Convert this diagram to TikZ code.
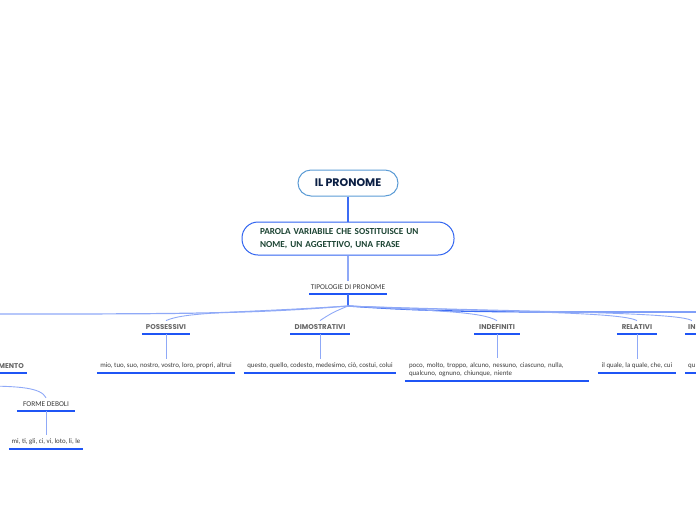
\documentclass[tikz,border=0pt]{standalone}
\usepackage{fontspec}
\setmainfont{Carlito}
\newfontfamily\popp{Poppins}
\definecolor{rootline}{HTML}{5B9BD5}
\definecolor{navy}{HTML}{0B1F44}
\definecolor{boxline}{HTML}{2F63F0}
\definecolor{dgreen}{HTML}{1B4332}
\definecolor{uline}{HTML}{1F55F5}
\definecolor{trunk}{HTML}{3C6CF4}
\definecolor{lline}{HTML}{8FA9F7}
\definecolor{catgray}{HTML}{666666}
\definecolor{txtgray}{HTML}{3A3A3A}
\tikzset{
  ul/.style={append after command={(\tikzlastnode.south west) edge[draw=uline, line width=1.4pt] (\tikzlastnode.south east)}},
  rootbox/.style={draw=rootline, line width=1pt, rounded corners=13pt, minimum width=100pt, minimum height=26pt, text=navy, font=\popp\bfseries\fontsize{11}{12}\selectfont},
  defbox/.style={draw=boxline, line width=1pt, rounded corners=16pt, minimum width=212pt, minimum height=33pt, text=dgreen, font=\bfseries\fontsize{9.2}{13}\selectfont, align=left, text width=176pt},
  tipo/.style={ul, anchor=south, inner ysep=4pt, inner xsep=0pt, text=txtgray, font=\fontsize{7.4}{8}\selectfont},
  cat/.style={ul, anchor=south, inner ysep=4pt, inner xsep=0pt, text=catgray, font=\popp\bfseries\fontsize{7}{8}\selectfont},
  ex/.style={ul, anchor=south, inner ysep=4pt, inner xsep=0pt, text=txtgray, font=\fontsize{6.9}{8}\selectfont},
  conn/.style={draw=lline, line width=0.9pt},
  stem/.style={draw=trunk, line width=1.3pt}
}
\begin{document}
\begin{tikzpicture}[x=1pt, y=-1pt]
\useasboundingbox (0,0) rectangle (696,520);
\clip (0,0) rectangle (696,520);
\node[rootbox] at (348,183) (root) {IL PRONOME};
\node[defbox] at (348,238.5) (def) {PAROLA VARIABILE CHE SOSTITUISCE UN\\NOME, UN AGGETTIVO, UNA FRASE};
\node[tipo, minimum width=77pt] at (348,294) (tipo) {TIPOLOGIE DI PRONOME};
\coordinate (hub) at (348,306);
\coordinate (farleft) at (-20,314);
\coordinate (farright) at (716,312);
\coordinate (persleft) at (-20,386);
\node[cat, minimum width=48pt] at (166,334) (poss) {POSSESSIVI};
\node[cat, minimum width=59pt] at (320,334) (dim) {DIMOSTRATIVI};
\node[cat, minimum width=45pt] at (497,334) (indef) {INDEFINITI};
\node[cat, minimum width=40pt] at (637,334) (rel) {RELATIVI};
\node[cat, anchor=south west, inner xsep=3pt] at (685,334) (inter) {IN};
\node[cat, anchor=south east, inner xsep=3pt] at (27,373) (compl) {MENTO};
\node[ex, minimum width=138pt] at (166,373) (possex) {mio, tuo, suo, nostro, vostro, loro, propri, altrui};
\node[ex, minimum width=152pt] at (320,373) (dimex) {questo, quello, codesto, medesimo, ciò, costui, colui};
\node[ex, text width=176pt, inner xsep=4pt, align=left, font=\fontsize{6.9}{8.2}\selectfont] at (497,381) (indefex) {poco, molto, troppo, alcuno, nessuno, ciascuno, nulla,\\qualcuno, ognuno, chiunque, niente};
\node[ex, minimum width=78pt] at (637,373) (relex) {il quale, la quale, che, cui};
\node[ex, anchor=south west, inner xsep=3pt] at (685,373) (interex) {qu};
\node[tipo, minimum width=58pt] at (46,411) (deboli) {FORME DEBOLI};
\node[ex, minimum width=74pt] at (46,449) (deboliex) {mi, ti, gli, ci, vi, loto, li, le};
\draw[stem] (root) -- (def);
\draw[conn, line width=1.1pt] (def) -- (tipo);
\draw[stem] (tipo.south) -- (hub);
\draw[conn, line width=1.2pt] (hub) .. controls +(-100,8) and +(200,0) .. (farleft);
\draw[stem] (hub) .. controls +(100,7) and +(-200,0) .. (farright);
\draw[conn] (hub) .. controls +(-110,7) and +(20,-9) .. (poss.north);
\draw[conn] (hub) .. controls +(-12,5) and +(12,-8) .. (dim.north);
\draw[conn] (hub) .. controls +(90,5) and +(-15,-9) .. (indef.north);
\draw[conn] (hub) .. controls +(150,6) and +(-15,-9) .. (rel.north);
\draw[conn] (hub) .. controls +(170,6) and +(-12,-9) .. (inter.north);
\draw[conn] (persleft) .. controls +(40,0) and +(-5,-10) .. (deboli.north);
\draw[conn] (poss) -- (possex);
\draw[conn] (dim) -- (dimex);
\draw[conn] (indef) -- (indefex);
\draw[conn] (rel) -- (relex);
\draw[conn] (deboli) -- (deboliex);
\end{tikzpicture}
\end{document}
